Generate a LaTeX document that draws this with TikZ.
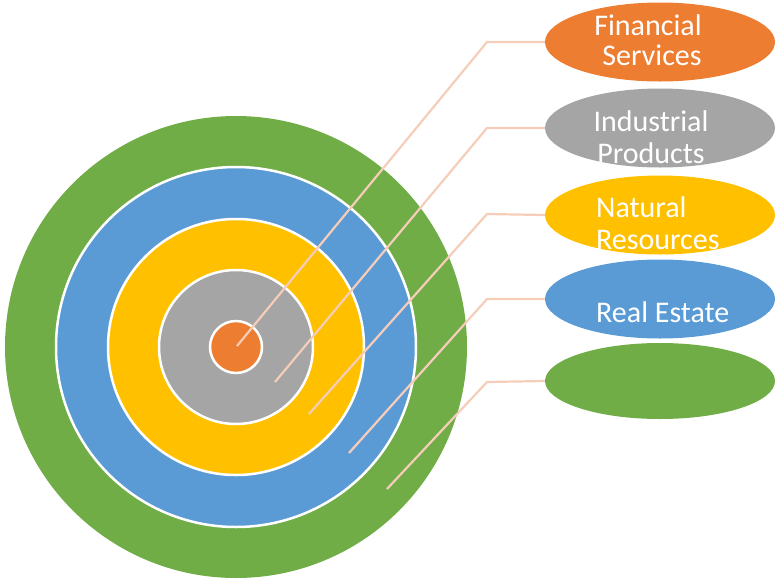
\documentclass[tikz,border=0pt]{standalone}
\usepackage{fontspec}
\setmainfont{Carlito}
\usetikzlibrary{shapes.geometric}
\definecolor{cOrange}{HTML}{ED7D31}
\definecolor{cGray}{HTML}{A5A5A5}
\definecolor{cYellow}{HTML}{FFC000}
\definecolor{cBlue}{HTML}{5B9BD5}
\definecolor{cGreen}{HTML}{70AD47}
\definecolor{cLine}{HTML}{F6CDB8}
\tikzset{
  ring/.style={circle, draw=white, line width=2.5pt, inner sep=0pt},
  oval/.style={ellipse, inner sep=0pt, minimum width=230pt, minimum height=79pt},
  lbl/.style={text=white, font=\fontsize{30}{36}\selectfont, inner sep=0pt},
  leader/.style={draw=cLine, line width=2.2pt}
}
\begin{document}
\begin{tikzpicture}[x=1pt,y=-1pt]
\useasboundingbox (0,0) rectangle (777,582);
% target circles
\node[circle, fill=cGreen, inner sep=0pt, minimum size=462pt] (rgreen) at (236,347) {};
\node[ring, fill=cBlue, minimum size=360pt] (rblue) at (236,347) {};
\node[ring, fill=cYellow, minimum size=256pt] (ryellow) at (236,347) {};
\node[ring, fill=cGray, minimum size=154pt] (rgray) at (236,347) {};
\node[ring, fill=cOrange, minimum size=52pt] (rorange) at (236,347) {};
% ellipses
\node[oval, fill=cOrange] (e1) at (660,42) {};
\node[oval, fill=cGray] (e2) at (660,128) {};
\node[oval, fill=cYellow] (e3) at (660,215) {};
\node[oval, fill=cBlue] (e4) at (660,299) {};
\node[oval, fill=cGreen, minimum height=76pt] (e5) at (660,381) {};
% leader lines
\coordinate (p1) at (237,346);
\coordinate (p2) at (275,382);
\coordinate (p3) at (309,414);
\coordinate (p4) at (349,453);
\coordinate (p5) at (387,489);
\coordinate (k1) at (487,42);
\coordinate (k2) at (487,128);
\coordinate (k3) at (487,214);
\coordinate (k4) at (487,299);
\coordinate (k5) at (487,382);
\draw[leader] (p1) -- (k1) -- (e1.west);
\draw[leader] (p2) -- (k2) -- (e2.west);
\draw[leader] (p3) -- (k3) -- (e3.west);
\draw[leader] (p4) -- (k4) -- (e4.west);
\draw[leader] (p5) -- (k5) -- (e5.west);
% labels
\node[lbl, anchor=base] (t1a) at (648,35) {Financial};
\node[lbl, anchor=base] (t1b) at (652,65) {Services};
\node[lbl, anchor=base] (t2a) at (651,131) {Industrial};
\node[lbl, anchor=base] (t2b) at (651,163) {Products};
\node[lbl, anchor=base west] (t3a) at (596,217) {Natural};
\node[lbl, anchor=base west] (t3b) at (596,249) {Resources};
\node[lbl, anchor=base west] (t4) at (596,322) {Real Estate};
\end{tikzpicture}
\end{document}
